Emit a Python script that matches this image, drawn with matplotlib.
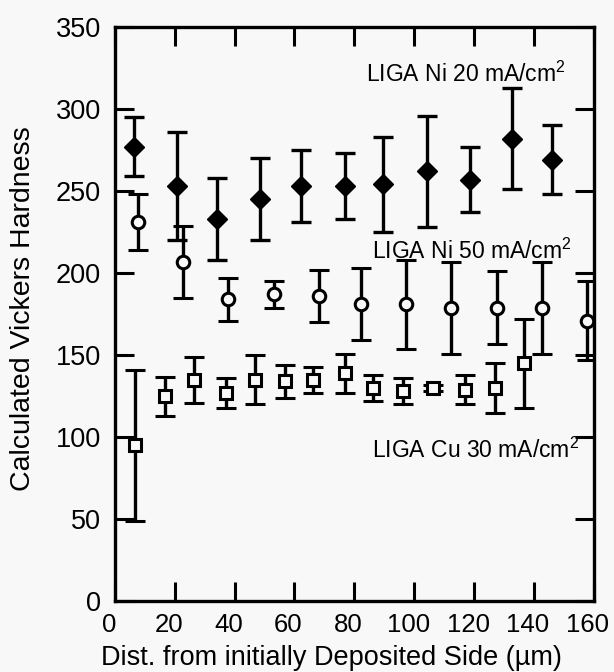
import matplotlib
matplotlib.use("Agg")
import matplotlib.pyplot as plt
from matplotlib.transforms import ScaledTranslation

plt.rcParams['font.family'] = ['Liberation Sans', 'DejaVu Sans']
plt.rcParams['mathtext.fontset'] = 'custom'
plt.rcParams['mathtext.rm'] = 'Liberation Sans'
plt.rcParams['mathtext.default'] = 'regular'

# LIGA Ni 20 mA/cm2 (filled diamonds)
ni20_x = [6.5, 20.8, 34.2, 48.6, 62.1, 76.9, 89.7, 104.2, 118.5, 132.7, 146.2]
ni20_y = [277, 253, 233, 245, 253, 253, 254, 262, 257, 282, 269]
ni20_err = [18, 33, 25, 25, 22, 20, 29, 34, 20, 31, 21]

# LIGA Ni 50 mA/cm2 (open circles)
ni50_x = [7.6, 22.8, 37.9, 53.2, 68.3, 82.3, 97.2, 112.4, 127.6, 142.7, 157.8]
ni50_y = [231, 207, 184, 187, 186, 181, 181, 179, 179, 179, 171]
ni50_err = [17, 22, 13, 8, 16, 22, 27, 28, 22, 28, 24]

# LIGA Cu 30 mA/cm2 (open squares)
cu_x = [6.8, 16.6, 26.3, 37.1, 46.9, 56.7, 66.1, 76.9, 86.4, 96.4, 106.2, 117.0, 126.9, 136.6]
cu_y = [95, 125, 135, 127, 135, 134, 135, 139, 130, 128, 130, 129, 130, 145]
cu_err = [46, 12, 14, 9, 15, 10, 8, 12, 8, 8, 2, 9, 15, 27]

bg = '#f8f8f8'
fig = plt.figure(figsize=(6.14, 6.72), dpi=100, facecolor=bg)
ax = fig.add_axes([0.187, 0.105, 0.780, 0.855])
ax.set_facecolor(bg)

common = dict(color='black', ecolor='black', elinewidth=2.4, capsize=7, capthick=2.4, linestyle='none')
ax.errorbar(ni20_x, ni20_y, yerr=ni20_err, marker='D', markersize=10, markerfacecolor='black', **common)
ax.errorbar(ni50_x, ni50_y, yerr=ni50_err, marker='o', markersize=9, markerfacecolor=bg,
            markeredgewidth=2.2, **common)
ax.errorbar(cu_x, cu_y, yerr=cu_err, marker='s', markersize=8.5, markerfacecolor=bg,
            markeredgewidth=2.2, **common)

ax.text(84.0, 321, 'LIGA Ni 20 mA/cm$^{2}$', fontsize=16.5, va='center')
ax.text(86.0, 213, 'LIGA Ni 50 mA/cm$^{2}$', fontsize=16.5, va='center')
ax.text(86.0, 92, 'LIGA Cu 30 mA/cm$^{2}$', fontsize=16.5, va='center')

ax.set_xlim(0, 160)
ax.set_ylim(0, 350)
ax.set_xticks(range(0, 161, 20))
ax.set_yticks(range(0, 351, 50))
ax.tick_params(direction='in', length=14, width=2.2, top=True, right=True)
ax.tick_params(axis='x', pad=8, labelsize=18.5)
ax.tick_params(axis='y', pad=10, labelsize=19.5)
for s in ax.spines.values():
    s.set_linewidth(2.4)

# x tick labels sit a little left of their ticks in the original
shift = ScaledTranslation(-6 / 100, 0, fig.dpi_scale_trans)
for lab in ax.get_xticklabels():
    lab.set_transform(lab.get_transform() + shift)

ax.set_xlabel('Dist. from initially Deposited Side (\u00b5m)', fontsize=19.5)
ax.xaxis.set_label_coords(0.453, -0.099)
ax.xaxis.label.set_va('center')
ax.set_ylabel('Calculated Vickers Hardness', fontsize=20.5)
ax.yaxis.set_label_coords(-0.192, 0.51)
ax.yaxis.label.set_va('center')

fig.savefig('out.png', dpi=100, facecolor=fig.get_facecolor())
